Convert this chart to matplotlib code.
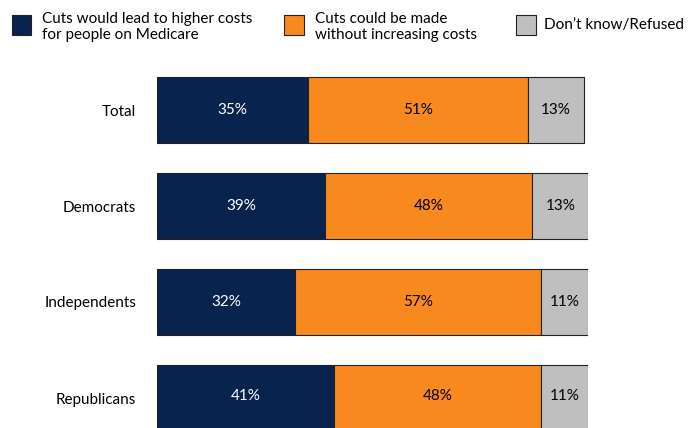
import matplotlib
matplotlib.use('Agg')
import matplotlib.pyplot as plt
from matplotlib.patches import Rectangle

plt.rcParams['font.family'] = ['Lato', 'DejaVu Sans']

categories = ['Total', 'Democrats', 'Independents', 'Republicans']
higher_costs = [35, 39, 32, 41]
without_costs = [51, 48, 57, 48]
dont_know = [13, 13, 11, 11]

series_names = ['Cuts would lead to higher costs\nfor people on Medicare',
                'Cuts could be made\nwithout increasing costs',
                'Don\u2019t know/Refused']
colors = ['#08234d', '#f7891f', '#bfbfbf']
text_colors = ['white', 'black', 'black']

W, H = 689, 428
fig = plt.figure(figsize=(W / 100, H / 100), dpi=100)
ax = fig.add_axes([157 / W, 0, (588.3 - 157) / W, 1])

y = list(range(len(categories)))
left = [0] * len(categories)
for vals, col, tcol in zip([higher_costs, without_costs, dont_know], colors, text_colors):
    bars = ax.barh(y, vals, left=left, height=0.69, color=col,
                   edgecolor='#222222', linewidth=0.8)
    ax.bar_label(bars, labels=[f'{v}%' for v in vals], label_type='center',
                 color=tcol, fontsize=11)
    left = [l + v for l, v in zip(left, vals)]

ax.set_xlim(0, 100)
ax.set_ylim(3 + 30 / 96, -110 / 96)
ax.set_yticks(y, categories, fontsize=11)
ax.tick_params(axis='y', length=0, pad=15)
ax.set_xticks([])
for s in ax.spines.values():
    s.set_visible(False)

# legend (drawn by hand to match the original layout)
legend_pos = [(11.7, 41.7, 27), (284.3, 315, 27), (516, 544.3, 25)]
for (bx, tx, ty), name, col in zip(legend_pos, series_names, colors):
    fig.patches.append(Rectangle((bx / W, 1 - 35 / H), 19.5 / W, 20 / H,
                                 transform=fig.transFigure, facecolor=col,
                                 edgecolor='#222222', linewidth=0.8))
    fig.text(tx / W, 1 - ty / H, name, fontsize=11, va='center', ha='left',
             linespacing=1.25)

fig.savefig('out.png', dpi=100)
